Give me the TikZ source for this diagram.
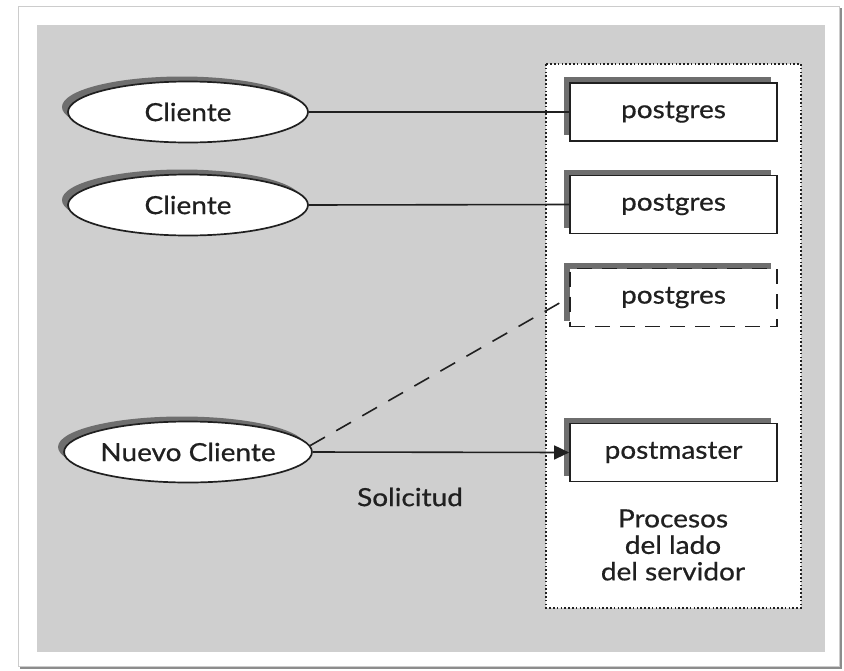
\documentclass[tikz,border=0pt]{standalone}
\usepackage{fontspec}
\setmainfont{Lato}[FakeStretch=1.12, FakeBold=0.6]
\usetikzlibrary{shapes.geometric,arrows.meta,shadows}
\definecolor{bggray}{RGB}{207,207,207}
\definecolor{shad}{RGB}{110,110,110}
\definecolor{ink}{RGB}{32,32,32}
\begin{document}
\begin{tikzpicture}[x=1pt,y=-1pt,
  every node/.style={font=\fontsize{25}{29}\selectfont, text=ink},
  myshadow/.style={general shadow={fill=shad, shadow xshift=-6pt, shadow yshift=5pt}},
  client/.style={ellipse, draw=ink, line width=1.7pt, fill=white, minimum width=240pt, minimum height=61pt, inner sep=0pt, myshadow},
  proc/.style={rectangle, draw=ink, line width=1.7pt, fill=white, minimum width=207pt, minimum height=58pt, inner sep=0pt, general shadow={fill=shad, shadow xshift=-6pt, shadow yshift=6pt}},
  dproc/.style={proc, dash pattern=on 15pt off 10pt},
  conn/.style={draw=ink, line width=1.6pt},
  plain/.style={inner sep=0pt, align=center}
]
\useasboundingbox (0,0) rectangle (844,670);
% outer frame with shadow
\fill[white] (0,0) rectangle (844,670);
\fill[black!45] (20,8) rectangle (842,669);
\fill[white] (18,6) rectangle (839,666);
\draw[black!20, line width=0.6pt] (18,6) rectangle (839,666);
% gray background
\fill[bggray] (37,25) rectangle (825,652);
% server side dotted box
\draw[fill=white, draw=ink, line width=1.6pt, dash pattern=on 1.6pt off 2.2pt] (546,64) rectangle (801,608);
% clients
\node[client] (c1) at (188,112) {Cliente};
\node[client] (c2) at (188,205) {Cliente};
\node[client] (c3) at (188,452) {Nuevo Cliente};
% processes
\node[proc] (p1) at (673.5,112) {postgres};
\node[proc] (p2) at (673.5,204.5) {postgres};
\node[dproc] (p3) at (673.5,297.5) {postgres};
\node[proc] (pm) at (673.5,452.5) {postmaster};
% labels
\node[plain] (sol) at (410,497) {Solicitud};
\node[plain, font=\fontsize{25}{26.5}\selectfont] (srv) at (673,545) {Procesos\\del lado\\del servidor};
% connectors
\draw[conn] (c1.east) -- (p1.west);
\draw[conn] (c2.east) -- (p2.west);
\draw[conn, dash pattern=on 17pt off 13pt] (c3.3) -- (p3.west);
\draw[conn, -{Triangle[length=15pt,width=14pt]}] (c3.east) -- (pm.west);
\end{tikzpicture}
\end{document}
